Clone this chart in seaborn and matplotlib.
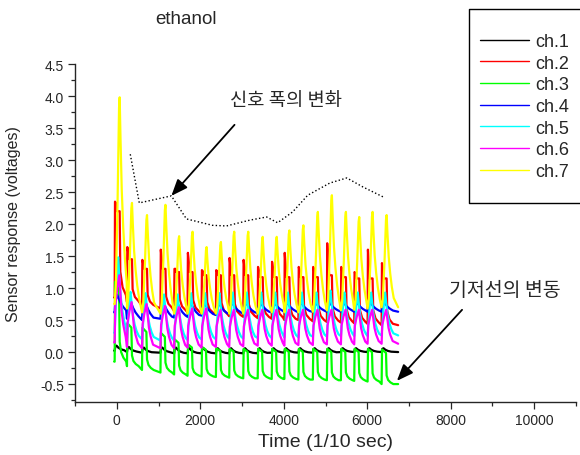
import numpy as np
import pandas as pd
import matplotlib
matplotlib.use('Agg')
import matplotlib.pyplot as plt
from matplotlib.lines import Line2D
from matplotlib.ticker import MultipleLocator, FormatStrFormatter
import seaborn as sns

channels = ['ch.1', 'ch.2', 'ch.3', 'ch.4', 'ch.5', 'ch.6', 'ch.7']
colors = ['#000000', '#ff0000', '#00ff00', '#0000ff', '#00ffff', '#ff00ff', '#ffff00']

# gas exposure start of each pulse (1/10 sec)
pulse_on = [-50, 245, 605, 1047, 1374, 1696, 2032, 2375, 2694, 3030,
            3376, 3712, 4015, 4351, 4697, 5033, 5369, 5688, 6008, 6344]
t_start, t_end = -60, 6740

# per-pulse peak and baseline levels (voltages)
peak_ch1 = [0.10, 0.08, 0.07, 0.07, 0.07, 0.06, 0.06, 0.06, 0.06, 0.06,
            0.06, 0.06, 0.06, 0.06, 0.06, 0.06, 0.06, 0.06, 0.06, 0.06]
base_ch1 = [0.02, 0.00, -0.01, -0.01, -0.02, -0.02, -0.02, -0.02, -0.02, -0.02,
            -0.02, -0.01, -0.01, -0.01, -0.01, -0.01, 0.00, 0.00, 0.00, 0.00]

peak_ch2 = [2.35, 1.64, 1.44, 1.60, 1.30, 1.55, 1.28, 1.28, 1.47, 1.44,
            1.33, 1.41, 1.55, 1.33, 1.33, 1.70, 1.33, 1.25, 1.60, 1.39]
plat_ch2 = [2.20, 1.45, 1.30, 1.30, 1.25, 1.25, 1.20, 1.20, 1.20, 1.20,
            1.17, 1.17, 1.17, 1.17, 1.17, 1.20, 1.17, 1.15, 1.15, 1.15]
base_ch2 = [0.85, 0.78, 0.72, 0.68, 0.64, 0.62, 0.60, 0.58, 0.56, 0.55,
            0.53, 0.52, 0.50, 0.50, 0.48, 0.47, 0.46, 0.45, 0.44, 0.42]

peak_ch3 = [1.10, 0.45, 0.38, 0.30, 0.20, 0.12, 0.08, 0.06, 0.05, 0.05,
            0.05, 0.05, 0.05, 0.05, 0.05, 0.05, 0.05, 0.05, 0.05, 0.04]
base_ch3 = [-0.15, -0.22, -0.28, -0.32, -0.35, -0.37, -0.38, -0.39, -0.40, -0.41,
            -0.41, -0.42, -0.42, -0.43, -0.43, -0.44, -0.44, -0.45, -0.46, -0.50]

peak_ch4 = [0.90, 0.85, 0.82, 0.80, 0.80, 0.80, 0.78, 0.78, 0.78, 0.78,
            0.78, 0.78, 0.78, 0.78, 0.78, 0.78, 0.78, 0.78, 0.78, 0.78]
base_ch4 = [0.62, 0.52, 0.50, 0.52, 0.54, 0.55, 0.57, 0.58, 0.60, 0.60,
            0.61, 0.62, 0.62, 0.62, 0.63, 0.63, 0.63, 0.63, 0.63, 0.63]

peak_ch5 = [1.48, 0.94, 0.92, 0.90, 0.90, 0.92, 0.92, 0.92, 0.93, 0.93,
            0.93, 0.93, 0.93, 0.93, 0.93, 0.96, 0.93, 0.93, 0.93, 0.93]
base_ch5 = [0.30, 0.22, 0.20, 0.18, 0.18, 0.19, 0.20, 0.20, 0.21, 0.21,
            0.22, 0.22, 0.23, 0.23, 0.24, 0.24, 0.25, 0.25, 0.25, 0.26]

peak_ch6 = [1.20, 0.78, 0.75, 0.72, 0.70, 0.68, 0.68, 0.66, 0.66, 0.66,
            0.66, 0.66, 0.66, 0.66, 0.66, 0.66, 0.66, 0.66, 0.66, 0.66]
base_ch6 = [0.15, 0.08, 0.06, 0.06, 0.06, 0.07, 0.07, 0.08, 0.08, 0.09,
            0.10, 0.10, 0.10, 0.11, 0.11, 0.12, 0.12, 0.12, 0.13, 0.13]

peak_ch7 = [3.98, 2.33, 2.14, 2.30, 1.81, 1.88, 1.64, 1.72, 1.88, 1.88,
            1.80, 1.80, 1.90, 1.98, 2.19, 2.45, 2.19, 2.11, 2.19, 2.14]
base_ch7 = [0.75, 0.68, 0.62, 0.60, 0.60, 0.60, 0.60, 0.60, 0.60, 0.60,
            0.60, 0.62, 0.62, 0.62, 0.63, 0.65, 0.65, 0.66, 0.68, 0.70]

# shape of one pulse, read from a typical cycle: (offset, share of peak, share of plateau)
shape_ch1 = [(0, 0, 0), (15, 0.8, 0), (45, 1.0, 0), (90, 0.6, 0), (150, 0.3, 0), (230, 0.1, 0)]
shape_ch2 = [(0, 0, 0), (8, 1.0, 0), (30, 0.4, 0.65), (55, 0, 1.0), (120, 0, 1.0),
             (135, 0, 0.3), (190, 0, 0.12), (270, 0, 0.03)]
shape_ch3 = [(0, 0, 0), (10, 1.0, 0), (105, 0.9, 0), (120, 0.25, 0), (155, 0.12, 0),
             (210, 0.05, 0), (280, 0, 0)]
shape_ch4 = [(0, 0, 0), (15, 0.55, 0), (55, 1.0, 0), (95, 0.78, 0), (145, 0.52, 0),
             (205, 0.3, 0), (275, 0.12, 0)]
shape_ch5 = [(0, 0, 0), (30, 0.4, 0), (70, 0.95, 0), (85, 1.0, 0), (110, 0.75, 0),
             (145, 0.48, 0), (185, 0.29, 0), (230, 0.15, 0), (280, 0.05, 0)]
shape_ch6 = [(0, 0, 0), (15, 0.55, 0), (60, 0.8, 0), (110, 1.0, 0), (135, 0.75, 0),
             (165, 0.47, 0), (205, 0.27, 0), (265, 0.08, 0)]
shape_ch7 = [(0, 0, 0), (30, 0.1, 0), (70, 0.5, 0), (105, 0.95, 0), (120, 1.0, 0),
             (140, 0.8, 0), (170, 0.55, 0), (205, 0.37, 0), (245, 0.22, 0), (290, 0.1, 0)]

# dotted envelope of peak heights
env_t = [324, 540, 1308, 1669, 2293, 2629, 3181, 3590, 3854, 4214, 4574, 5102, 5510, 5894, 6423]
env_v = [3.09, 2.33, 2.44, 2.08, 1.98, 1.97, 2.06, 2.11, 2.02, 2.19, 2.45, 2.64, 2.72, 2.58, 2.41]


def pulse_train(base, peak, shape, plateau=None):
    t = [t_start]
    v = [base[0]]
    for k, on in enumerate(pulse_on):
        top = plateau[k] if plateau is not None else base[k]
        for off, fp, fq in shape:
            t.append(on + off)
            v.append(base[k] + fp * (peak[k] - base[k]) + fq * (top - base[k]))
    t.append(t_end)
    v.append(base[-1])
    return t, v


series = [
    pulse_train(base_ch1, peak_ch1, shape_ch1),
    pulse_train(base_ch2, peak_ch2, shape_ch2, plat_ch2),
    pulse_train(base_ch3, peak_ch3, shape_ch3),
    pulse_train(base_ch4, peak_ch4, shape_ch4),
    pulse_train(base_ch5, peak_ch5, shape_ch5),
    pulse_train(base_ch6, peak_ch6, shape_ch6),
    pulse_train(base_ch7, peak_ch7, shape_ch7),
]

frames = []
for name, (t, v) in zip(channels, series):
    frames.append(pd.DataFrame({'t': t, 'v': v, 'ch': name}))
df = pd.concat(frames, ignore_index=True)

sns.set_style('ticks')
plt.rcParams['font.family'] = ['Liberation Sans', 'DejaVu Sans']
plt.rcParams['axes.unicode_minus'] = False

fig = plt.figure(figsize=(5.8, 4.56), dpi=100)
ax = fig.add_axes([75 / 580, 1 - 403 / 456, 501 / 580, 338 / 456])

sns.lineplot(data=df, x='t', y='v', hue='ch', palette=colors, estimator=None,
             sort=False, linewidth=1.6, legend=False, ax=ax)
sns.lineplot(x=env_t, y=env_v, color='black', linewidth=1.0, linestyle=':',
             estimator=None, sort=False, ax=ax)

ax.set_xlim(-1000, 11000)
ax.set_ylim(-0.78, 4.5)
ax.xaxis.set_major_locator(MultipleLocator(2000))
ax.xaxis.set_minor_locator(MultipleLocator(1000))
ax.yaxis.set_major_locator(MultipleLocator(0.5))
ax.yaxis.set_minor_locator(MultipleLocator(0.25))
ax.yaxis.set_major_formatter(FormatStrFormatter('%.1f'))
ax.tick_params(which='major', length=5, width=0.9, labelsize=10, pad=3)
ax.tick_params(which='minor', length=3, width=0.9)
for s in ['left', 'bottom']:
    ax.spines[s].set_linewidth(1.0)
sns.despine(ax=ax)

ax.set_xlabel('Time (1/10 sec)', fontsize=14, labelpad=4)
ax.set_ylabel('Sensor response (voltages)', fontsize=11.5)
ax.yaxis.set_label_coords(-0.108, 0.53)
fig.text(186 / 580, 1 - 20 / 456, 'ethanol', fontsize=13.5, ha='center', va='center')

kr = ['Noto Sans CJK KR', 'DejaVu Sans']
ax.text(4045, 3.94, '신호 폭의 변화', family=kr, fontsize=13.5, ha='center', va='center')
ax.text(9303, 0.97, '기저선의 변동', family=kr, fontsize=14, ha='center', va='center')
arrow = dict(arrowstyle='-|>,head_length=1.0,head_width=0.4', color='black', lw=1.3,
             shrinkA=0, shrinkB=0)
ax.annotate('', xy=(1308, 2.44), xytext=(2821, 3.55), arrowprops=arrow)
ax.annotate('', xy=(6710, -0.45), xytext=(8271, 0.66), arrowprops=arrow)

# legend box runs off the right edge, so only three sides show
box_l, box_t, box_b = 469 / 580, 1 - 10 / 456, 1 - 204 / 456
fig.add_artist(Line2D([1.1, box_l, box_l, 1.1], [box_t, box_t, box_b, box_b],
                      color='black', lw=1.0, transform=fig.transFigure))
handles = [Line2D([0], [0], color=c, lw=1.0) for c in colors]
fig.legend(handles, channels, loc='upper left', bbox_to_anchor=(480 / 580, 1 - 34 / 456),
           frameon=False, fontsize=13, borderpad=0, borderaxespad=0, handlelength=2.7,
           handletextpad=0.35, labelspacing=0.26)

fig.savefig('out.png', dpi=100)
